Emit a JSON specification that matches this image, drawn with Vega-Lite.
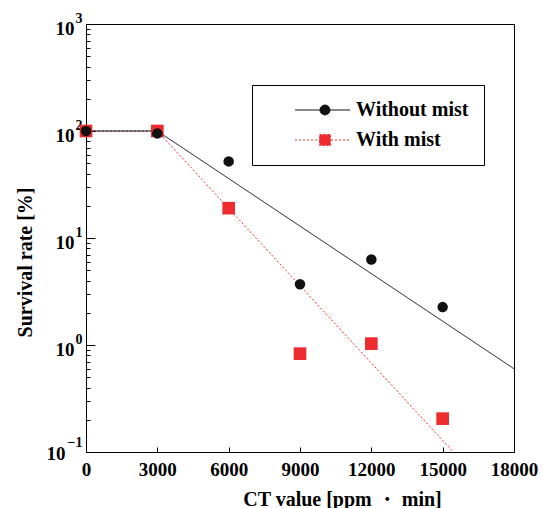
{
  "$schema": "https://vega.github.io/schema/vega-lite/v6.json",
  "autosize": "none",
  "padding": {"left": 86, "top": 24, "right": 29, "bottom": 56},
  "width": 428,
  "height": 428,
  "background": "white",
  "config": {
    "view": {"stroke": "black", "strokeWidth": 1},
    "axis": {"domainColor": "black", "tickColor": "black", "labelColor": "black", "titleColor": "black", "grid": false}
  },
  "datasets": {
    "pts": [
      {"series": "With mist", "x": 0, "y": 100},
      {"series": "With mist", "x": 3000, "y": 100},
      {"series": "With mist", "x": 6000, "y": 19},
      {"series": "With mist", "x": 9000, "y": 0.83},
      {"series": "With mist", "x": 12000, "y": 1.03},
      {"series": "With mist", "x": 15000, "y": 0.205},
      {"series": "Without mist", "x": 0, "y": 100},
      {"series": "Without mist", "x": 3000, "y": 95},
      {"series": "Without mist", "x": 6000, "y": 52},
      {"series": "Without mist", "x": 9000, "y": 3.7},
      {"series": "Without mist", "x": 12000, "y": 6.3},
      {"series": "Without mist", "x": 15000, "y": 2.26}
    ],
    "fit": [
      {"series": "With mist", "x": 0, "y": 100},
      {"series": "With mist", "x": 3000, "y": 100},
      {"series": "With mist", "x": 15450, "y": 0.1},
      {"series": "Without mist", "x": 0, "y": 100},
      {"series": "Without mist", "x": 3000, "y": 100},
      {"series": "Without mist", "x": 18000, "y": 0.6}
    ]
  },
  "resolve": {"scale": {"x": "independent", "y": "independent"}},
  "layer": [
    {
      "layer": [
        {
          "data": {"name": "fit"},
          "mark": {"type": "line", "strokeWidth": 1, "clip": true},
          "encoding": {
            "x": {"field": "x", "type": "quantitative"},
            "y": {"field": "y", "type": "quantitative"},
            "stroke": {"field": "series", "type": "nominal", "scale": {"domain": ["Without mist", "With mist"], "range": ["#111111", "#ee2b2e"]},
              "legend": {"orient": "none", "legendX": 166, "legendY": 61, "title": null, "strokeColor": "black", "fillColor": "white", "padding": 15,
                "labelFont": "Liberation Serif", "labelFontSize": 20, "labelFontWeight": "bold", "labelColor": "black",
                "symbolSize": 121, "symbolOffset": 48, "labelOffset": 21, "rowPadding": 10, "symbolStrokeWidth": 1, "symbolOpacity": 1}},
            "strokeDash": {"field": "series", "type": "nominal", "scale": {"domain": ["Without mist", "With mist"], "range": [[1, 0], [2, 2]]},
              "legend": {"orient": "none", "legendX": 166, "legendY": 61, "title": null, "strokeColor": "black", "fillColor": "white", "padding": 15,
                "labelFont": "Liberation Serif", "labelFontSize": 20, "labelFontWeight": "bold", "labelColor": "black",
                "symbolSize": 121, "symbolOffset": 48, "labelOffset": 21, "rowPadding": 10, "symbolStrokeWidth": 1, "symbolOpacity": 1}}
          }
        },
        {
          "data": {"name": "pts"},
          "mark": {"type": "point", "filled": true, "opacity": 1, "strokeWidth": 0},
          "encoding": {
            "x": {"field": "x", "type": "quantitative"},
            "y": {"field": "y", "type": "quantitative"},
            "fill": {"field": "series", "type": "nominal", "scale": {"domain": ["Without mist", "With mist"], "range": ["#111111", "#ee2b2e"]},
              "legend": {"orient": "none", "legendX": 166, "legendY": 61, "title": null, "strokeColor": "black", "fillColor": "white", "padding": 15,
                "labelFont": "Liberation Serif", "labelFontSize": 20, "labelFontWeight": "bold", "labelColor": "black",
                "symbolSize": 121, "symbolOffset": 48, "labelOffset": 21, "rowPadding": 10, "symbolStrokeWidth": 1, "symbolOpacity": 1}},
            "shape": {"condition": {"test": "datum.series === 'With mist'", "value": "square"}, "value": "circle"},
            "size": {"condition": {"test": "datum.series === 'With mist'", "value": 160}, "value": 110}
          }
        },
        {
          "data": {"name": "pts"},
          "mark": {"type": "point", "filled": true, "opacity": 0},
          "encoding": {
            "x": {"field": "x", "type": "quantitative"},
            "y": {"field": "y", "type": "quantitative"},
            "fill": {"field": "series", "type": "nominal",
              "legend": {"orient": "none", "legendX": 166, "legendY": 61, "title": null, "strokeColor": "black", "fillColor": "white", "padding": 15,
                "labelFont": "Liberation Serif", "labelFontSize": 20, "labelFontWeight": "bold", "labelColor": "black",
                "symbolSize": 121, "symbolOffset": 48, "labelOffset": 21, "rowPadding": 10, "symbolStrokeWidth": 1, "symbolOpacity": 1}},
            "stroke": {"field": "series", "type": "nominal",
              "legend": {"orient": "none", "legendX": 166, "legendY": 61, "title": null, "strokeColor": "black", "fillColor": "white", "padding": 15,
                "labelFont": "Liberation Serif", "labelFontSize": 20, "labelFontWeight": "bold", "labelColor": "black",
                "symbolSize": 121, "symbolOffset": 48, "labelOffset": 21, "rowPadding": 10, "symbolStrokeWidth": 1, "symbolOpacity": 1}},
            "shape": {"field": "series", "type": "nominal", "scale": {"domain": ["Without mist", "With mist"], "range": ["M-5.45,0H4.55M0.9,0A0.9,0.9,0,1,1,-0.9,0A0.9,0.9,0,1,1,0.9,0Z", "M-5.45,0H4.55M-1,-1H1V1H-1Z"]},
              "legend": {"orient": "none", "legendX": 166, "legendY": 61, "title": null, "strokeColor": "black", "fillColor": "white", "padding": 15,
                "labelFont": "Liberation Serif", "labelFontSize": 20, "labelFontWeight": "bold", "labelColor": "black",
                "symbolSize": 121, "symbolOffset": 48, "labelOffset": 21, "rowPadding": 10, "symbolStrokeWidth": 1, "symbolOpacity": 1}}
          }
        }
      ],
      "encoding": {
        "x": {
          "field": "x", "type": "quantitative",
          "scale": {"domain": [0, 18000], "nice": false, "zero": false},
          "axis": {
            "orient": "bottom",
            "values": [0, 3000, 6000, 9000, 12000, 15000, 18000],
            "format": "d",
            "ticks": false,
            "labelPadding": 8,
            "labelFont": "Liberation Serif", "labelFontSize": 19, "labelFontWeight": "bold",
            "labelFlush": false, "labelOverlap": false,
            "title": "CT value [ppm ・ min]",
            "titleFont": "Liberation Serif", "titleFontSize": 20, "titleFontWeight": "bold",
            "titleX": 256, "titleY": 53, "titleBaseline": "alphabetic", "titleAnchor": "middle"
          }
        },
        "y": {
          "field": "y", "type": "quantitative",
          "scale": {"type": "log", "domain": [0.1, 1000], "nice": false},
          "axis": {
            "orient": "left",
            "values": [0.1, 1, 10, 100, 1000],
            "labelExpr": "'10'",
            "ticks": false,
            "labelPadding": {"condition": {"test": "datum.value < 0.5", "value": 21}, "value": 12},
            "labelOffset": {"condition": {"test": "datum.value < 0.5", "value": 1}, "value": 4},
            "labelFont": "Liberation Serif", "labelFontSize": 19, "labelFontWeight": "bold",
            "labelFlush": false, "labelOverlap": false,
            "title": "Survival rate [%]",
            "titleFont": "Liberation Serif", "titleFontSize": 20, "titleFontWeight": "bold",
            "titleX": -55, "titleY": 238, "titleBaseline": "alphabetic", "titleAlign": "center", "titleAngle": -90
          }
        }
      }
    },
    {
      "data": {"name": "pts"},
      "mark": {"type": "point", "opacity": 0},
      "encoding": {
        "x": {"field": "x", "type": "quantitative", "scale": {"domain": [0, 18000], "nice": false, "zero": false}, "axis": null},
        "y": {
          "field": "y", "type": "quantitative",
          "scale": {"type": "log", "domain": [0.1, 1000], "nice": false},
          "axis": {
            "orient": "left",
            "values": [0.1, 1, 10, 100, 1000],
            "labelExpr": "datum.value > 500 ? '3' : datum.value > 50 ? '2' : datum.value > 5 ? '1' : datum.value > 0.5 ? '0' : '−1'",
            "domain": false, "ticks": false,
            "labelPadding": 4, "labelOffset": {"condition": {"test": "datum.value < 0.5", "value": -10}, "value": -6},
            "labelFont": "Liberation Serif", "labelFontSize": 14, "labelFontWeight": "bold",
            "labelFlush": false, "labelOverlap": false,
            "title": null
          }
        }
      }
    },
    {
      "data": {"name": "pts"},
      "mark": {"type": "point", "opacity": 0},
      "encoding": {
        "x": {
          "field": "x", "type": "quantitative",
          "scale": {"domain": [0, 18000], "nice": false, "zero": false},
          "axis": {"orient": "bottom", "offset": -5, "tickSize": 5, "domain": false, "labels": false, "title": null, "values": [3000, 6000, 9000, 12000, 15000]}
        },
        "y": {"field": "y", "type": "quantitative", "scale": {"type": "log", "domain": [0.1, 1000], "nice": false}, "axis": null}
      }
    },
    {
      "data": {"name": "pts"},
      "mark": {"type": "point", "opacity": 0},
      "encoding": {
        "x": {"field": "x", "type": "quantitative", "scale": {"domain": [0, 18000], "nice": false, "zero": false}, "axis": null},
        "y": {
          "field": "y", "type": "quantitative",
          "scale": {"type": "log", "domain": [0.1, 1000], "nice": false},
          "axis": {"orient": "left", "offset": -9, "tickSize": 9, "domain": false, "labels": false, "title": null, "values": [1, 10, 100]}
        }
      }
    },
    {
      "data": {"name": "pts"},
      "mark": {"type": "point", "opacity": 0},
      "encoding": {
        "x": {"field": "x", "type": "quantitative", "scale": {"domain": [0, 18000], "nice": false, "zero": false}, "axis": null},
        "y": {
          "field": "y", "type": "quantitative",
          "scale": {"type": "log", "domain": [0.1, 1000], "nice": false},
          "axis": {"orient": "left", "offset": -4, "tickSize": 4, "domain": false, "labels": false, "title": null,
            "values": [0.2, 0.3, 0.4, 0.5, 0.6, 0.7, 0.8, 0.9, 2, 3, 4, 5, 6, 7, 8, 9, 20, 30, 40, 50, 60, 70, 80, 90, 200, 300, 400, 500, 600, 700, 800, 900]}
        }
      }
    }
  ]
}
